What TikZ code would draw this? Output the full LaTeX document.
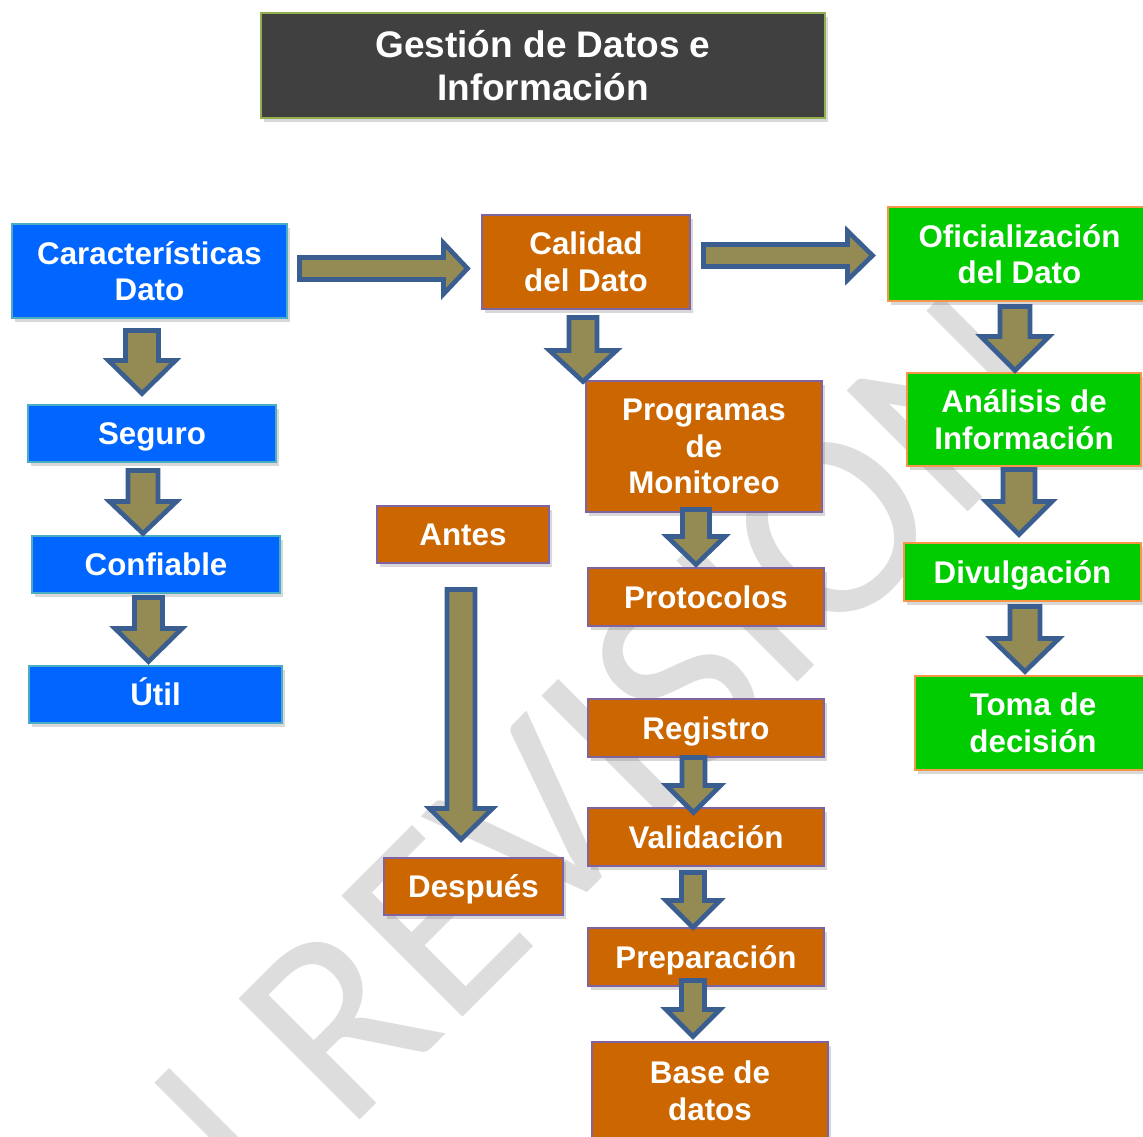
\documentclass[tikz,border=0pt]{standalone}
\usepackage{fontspec}
\setmainfont{Liberation Sans}
\newfontfamily\wmfont{Carlito}
\usetikzlibrary{calc,shadows}
\definecolor{bluefill}{RGB}{0,102,255}
\definecolor{blueline}{RGB}{75,172,198}
\definecolor{orfill}{RGB}{204,102,0}
\definecolor{orline}{RGB}{128,100,162}
\definecolor{grfill}{RGB}{0,204,0}
\definecolor{grline}{RGB}{247,150,70}
\definecolor{titlefill}{RGB}{64,64,64}
\definecolor{titleline}{RGB}{146,176,80}
\definecolor{arrfill}{RGB}{148,138,84}
\definecolor{arrline}{RGB}{59,94,145}
\definecolor{wmcol}{RGB}{221,221,221}
\def\pxu{0.75pt}
\tikzset{
  boxbase/.style={draw, line width=1.5pt, text=white, inner sep=0pt, outer sep=0pt,
    align=center, font=\bfseries\fontsize{23.5}{27.4}\selectfont,
    drop shadow={opacity=0.3, shadow xshift=2.5pt, shadow yshift=-3pt}},
  bluebox/.style={boxbase, fill=bluefill, draw=blueline},
  orbox/.style={boxbase, fill=orfill, draw=orline},
  grbox/.style={boxbase, fill=grfill, draw=grline},
  oneline/.style={text height=16.9pt, text depth=0pt},
  titlebox/.style={boxbase, fill=titlefill, draw=titleline, line width=2pt,
    font=\bfseries\fontsize{27.75}{32.25}\selectfont},
  blockarrow/.style={draw=arrline, fill=arrfill, line width=3.5pt, line join=miter},
}
% vertical block arrow: from, to, dx, topgap, tipgap, shafthalf, headhalf, headlen (px)
\newcommand\vblock[8]{%
  \draw[blockarrow] let \p1=(#1.south), \p2=(#2.north) in
  ({\x1+(#3)*\pxu-(#6-2.5)*\pxu}, {\y1-(#4+2.5)*\pxu}) --
  ({\x1+(#3)*\pxu+(#6-2.5)*\pxu}, {\y1-(#4+2.5)*\pxu}) --
  ({\x1+(#3)*\pxu+(#6-2.5)*\pxu}, {\y2+(#5+3.5)*\pxu+(#8-2)*\pxu}) --
  ({\x1+(#3)*\pxu+(#7-3)*\pxu}, {\y2+(#5+3.5)*\pxu+(#8-2)*\pxu}) --
  ({\x1+(#3)*\pxu}, {\y2+(#5+3.5)*\pxu}) --
  ({\x1+(#3)*\pxu-(#7-3)*\pxu}, {\y2+(#5+3.5)*\pxu+(#8-2)*\pxu}) --
  ({\x1+(#3)*\pxu-(#6-2.5)*\pxu}, {\y2+(#5+3.5)*\pxu+(#8-2)*\pxu}) -- cycle;}
% horizontal block arrow: from, to, dy, startgap, tipgap, shafthalf, headhalf, headlen (px)
\newcommand\hblock[8]{%
  \draw[blockarrow] let \p1=(#1.east), \p2=(#2.west) in
  ({\x1+(#4+2.5)*\pxu}, {\y1-(#3)*\pxu+(#6-2.5)*\pxu}) --
  ({\x2-(#5+3.5)*\pxu-(#8-2)*\pxu}, {\y1-(#3)*\pxu+(#6-2.5)*\pxu}) --
  ({\x2-(#5+3.5)*\pxu-(#8-2)*\pxu}, {\y1-(#3)*\pxu+(#7-3)*\pxu}) --
  ({\x2-(#5+3.5)*\pxu}, {\y1-(#3)*\pxu}) --
  ({\x2-(#5+3.5)*\pxu-(#8-2)*\pxu}, {\y1-(#3)*\pxu-(#7-3)*\pxu}) --
  ({\x2-(#5+3.5)*\pxu-(#8-2)*\pxu}, {\y1-(#3)*\pxu-(#6-2.5)*\pxu}) --
  ({\x1+(#4+2.5)*\pxu}, {\y1-(#3)*\pxu-(#6-2.5)*\pxu}) -- cycle;}
\begin{document}
\begin{tikzpicture}[x=0.75pt, y=-0.75pt]
\useasboundingbox (0,0) rectangle (1143,1137);
\clip (0,0) rectangle (1143,1137);
\fill[white] (0,0) rectangle (1143,1137);
% watermark
\node[rotate=45, anchor=base west, inner sep=0pt, text=wmcol,
  font=\wmfont\fontsize{200}{200}\selectfont] (wmk) at (90,1390) {EN REVISIÓN};
% title
\node[titlebox, minimum width=423pt, minimum height=78.75pt] (title) at (543,65.5) {Gestión de Datos e\\Información};
% blue column
\node[bluebox, minimum width=206.25pt, minimum height=70.5pt] (car) at (149.5,271) {Características\\Dato};
\node[bluebox, oneline, minimum width=186pt, minimum height=42.75pt] (seg) at (152,433.5) {Seguro};
\node[bluebox, oneline, minimum width=186pt, minimum height=42.75pt] (conf) at (156,564.5) {Confiable};
\node[bluebox, oneline, minimum width=189.75pt, minimum height=42.75pt] (util) at (155.5,694.5) {Útil};
% orange
\node[orbox, minimum width=156pt, minimum height=70.5pt] (cal) at (586,262) {Calidad\\del Dato};
\node[orbox, minimum width=177pt, minimum height=98.25pt] (prog) at (704,446.5) {Programas\\de\\Monitoreo};
\node[orbox, oneline, minimum width=129pt, minimum height=42.75pt] (antes) at (463,534.5) {Antes};
\node[orbox, oneline, minimum width=177pt, minimum height=43.5pt] (prot) at (706,597) {Protocolos};
\node[orbox, oneline, minimum width=177pt, minimum height=43.5pt] (reg) at (706,728) {Registro};
\node[orbox, oneline, minimum width=177pt, minimum height=43.5pt] (val) at (706,837) {Validación};
\node[orbox, oneline, minimum width=134.25pt, minimum height=42.75pt] (desp) at (473.5,886.5) {Después};
\node[orbox, oneline, minimum width=177pt, minimum height=43.5pt] (prep) at (706,957) {Preparación};
\node[orbox, minimum width=177pt, minimum height=73.5pt] (base) at (710,1091) {Base de\\datos};
% green
\node[grbox, minimum width=197.25pt, minimum height=70.5pt] (ofi) at (1019.5,254) {Oficialización\\del Dato};
\node[grbox, minimum width=175.5pt, minimum height=69.75pt] (ana) at (1024,419.5) {Análisis de\\Información};
\node[grbox, oneline, minimum width=177.75pt, minimum height=43.5pt] (div) at (1022.5,572) {Divulgación};
\node[grbox, minimum width=177pt, minimum height=70.5pt] (toma) at (1033,723) {Toma de\\decisión};
% arrows
\vblock{car}{seg}{-7.5}{10}{8}{19}{36.5}{35}
\vblock{seg}{conf}{-9}{6}{-1}{17.5}{36.5}{34}
\vblock{conf}{util}{-7.5}{2}{1}{16.5}{36.5}{35}
\vblock{cal}{prog}{-3}{6}{-4}{16.5}{36.5}{33}
\vblock{prog}{prot}{-8}{-5}{0}{16}{32}{30}
\vblock{reg}{val}{-12.5}{-2}{-8}{14}{30}{29}
\vblock{val}{prep}{-13}{4}{-3}{14}{30}{29}
\vblock{prep}{base}{-13}{-8}{2}{14}{30}{29}
\vblock{antes}{desp}{-2}{24}{15}{16.5}{34.5}{33}
\vblock{ofi}{ana}{-4.5}{3}{-1}{17.5}{37}{36}
\vblock{ana}{div}{-5}{1}{5}{18.5}{36}{35}
\vblock{div}{toma}{2.5}{3}{1}{17.5}{37}{35}
\hblock{car}{cal}{-2.5}{10}{11}{13.5}{28.5}{26}
\hblock{cal}{ofi}{-6.5}{11}{12}{13.5}{27.5}{27}
\end{tikzpicture}
\end{document}
